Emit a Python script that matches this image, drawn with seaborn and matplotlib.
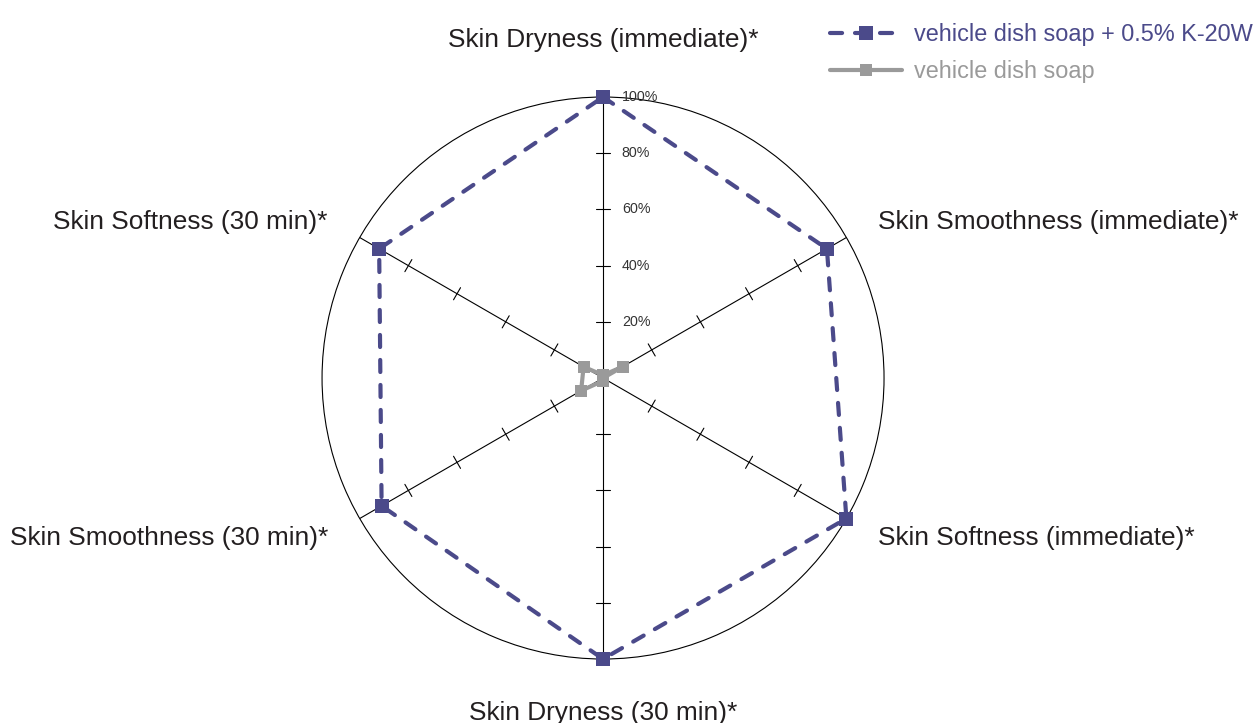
import numpy as np
import pandas as pd
import seaborn as sns
import matplotlib
matplotlib.use("Agg")
import matplotlib.pyplot as plt
from matplotlib import font_manager

categories = ["Skin Dryness (immediate)*", "Skin Smoothness (immediate)*",
              "Skin Softness (immediate)*", "Skin Dryness (30 min)*",
              "Skin Smoothness (30 min)*", "Skin Softness (30 min)*"]
k20w_values = [100, 92, 100, 100, 91, 92]
vehicle_values = [1, 8, 0, 1, 9, 8]
radial_ticks = [20, 40, 60, 80, 100]
series_names = ["vehicle dish soap + 0.5% K-20W", "vehicle dish soap"]

BLUE = "#4b4a8a"
GRAY = "#9a9a9a"

sns.set_theme(style="white")
names = {f.name for f in font_manager.fontManager.ttflist}
if "Liberation Sans Narrow" in names:
    fam, scale = "Liberation Sans Narrow", 1 / 0.82
else:
    fam, scale = "Liberation Sans", 1.0
plt.rcParams["font.family"] = [fam, "DejaVu Sans"]

fig = plt.figure(figsize=(12.57, 7.23), dpi=100)
ax = fig.add_axes([0.2562, 0.0885, 0.4471, 0.7773], projection="polar")
ax.set_theta_zero_location("N")
ax.set_theta_direction(-1)

angles = np.deg2rad(np.arange(len(categories)) * 360 / len(categories))


def closed(vals):
    t = np.append(angles, 2 * np.pi)
    r = np.array(list(vals) + [vals[0]]) / 100
    return pd.DataFrame({"theta": t, "r": r})


# spokes + small cross ticks
R = 281.0
d = 7 / R
for t in angles:
    ax.plot([t, t], [0, 1], color="black", lw=0.8, zorder=1)
    for rt in radial_ticks[:-1]:
        r = rt / 100
        da = np.arctan(d / r)
        rr = np.hypot(r, d)
        ax.plot([t - da, t + da], [rr, rr], color="black", lw=0.8, zorder=1)

sns.lineplot(data=closed(vehicle_values), x="theta", y="r", ax=ax, sort=False,
             estimator=None, color=GRAY, lw=3, marker="s", markersize=9,
             markeredgewidth=0, legend=False, clip_on=False, zorder=3,
             label=series_names[1])
sns.lineplot(data=closed(k20w_values), x="theta", y="r", ax=ax, sort=False,
             estimator=None, color=BLUE, lw=3, linestyle=(0, (2.9, 3.1)),
             dash_capstyle="round", marker="s", markersize=10,
             markeredgewidth=0, legend=False, clip_on=False, zorder=4,
             label=series_names[0])

ax.set_ylim(0, 1)
ax.set_xticks([])
ax.set_yticks([])
ax.set_xlabel("")
ax.set_ylabel("")
ax.grid(False)
ax.spines["polar"].set_color("black")
ax.spines["polar"].set_linewidth(0.8)

for rt in radial_ticks:
    ax.annotate(f"{rt}%", xy=(0, rt / 100), xytext=(13.5, 0),
                textcoords="offset points", ha="left", va="center",
                fontsize=10.3 * scale, color="#333333")

lab_fs = 18.9 * scale
offsets = [((0, 41), "center"), ((23, 11), "left"), ((23, -14), "left"),
           ((0, -39), "center"), ((-23, -14), "right"), ((-23, 11), "right")]
for t, cat, (off, ha) in zip(angles, categories, offsets):
    ax.annotate(cat, xy=(t, 1), xytext=off, textcoords="offset points",
                ha=ha, va="center", fontsize=lab_fs, color="#231f20",
                annotation_clip=False)

lines = ax.get_lines()
handles = [lines[-1], lines[-2]]
fig.legend(handles, series_names, loc="upper left",
           bbox_to_anchor=(0.660, 0.968), frameon=False, borderpad=0,
           borderaxespad=0, handlelength=3.1, handletextpad=0.5,
           labelspacing=0.6, fontsize=16.9 * scale, labelcolor="linecolor",
           numpoints=1)

fig.savefig("out.png", dpi=100)
